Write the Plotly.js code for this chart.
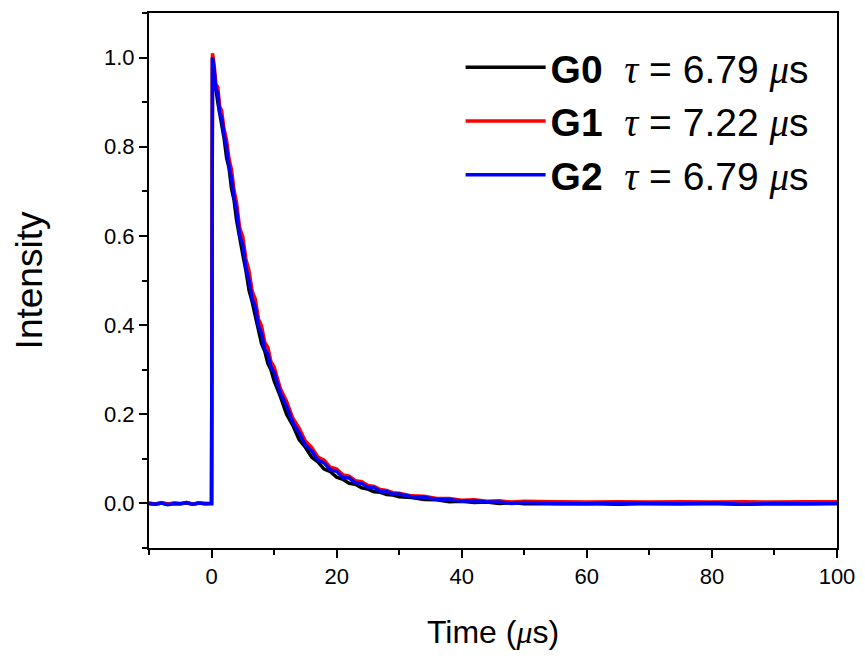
<!DOCTYPE html>
<html>
<head>
<meta charset="utf-8">
<script src="https://cdn.plot.ly/plotly-3.0.1.min.js"></script>
<style>html,body{margin:0;padding:0;background:#fff;}#chart{width:865px;height:660px;}</style>
</head>
<body>
<div id="chart"></div>
<script>
// Time axis (µs), shared by all three series
const time = [
  -10,-9,-8,-7,-6,-5,-4,-3,-2,-1,-0.2,
  0.0,0.15,
  0.4,0.7,1.0,1.3,1.6,2.0,2.4,2.8,3.2,3.6,4.0,
  4.5,5.0,5.5,6.0,6.5,7.0,7.5,8.0,8.5,9.0,9.5,10,
  11,12,13,14,15,16,17,18,19,20,21,22,23,24,25,26,27,28,29,30,
  32,34,36,38,40,42,44,46,48,50,
  55,60,65,70,75,80,85,90,95,100
];
// Normalised intensities
const g0 = [
  0.000,-0.002,0.001,-0.002,0.000,-0.001,0.001,-0.002,0.001,-0.001,0.000,
  0.000,1.000,
  0.960,0.930,0.900,0.876,0.846,0.820,0.776,0.752,0.706,0.680,0.636,
  0.594,0.558,0.522,0.478,0.452,0.418,0.392,0.358,0.342,0.314,0.300,0.275,
  0.240,0.200,0.175,0.143,0.126,0.104,0.093,0.077,0.071,0.059,0.054,0.045,0.043,0.035,0.032,0.026,0.025,0.020,0.019,0.015,
  0.013,0.009,0.008,0.004,0.005,0.002,0.003,0.000,0.002,-0.001,
  -0.001,0.000,-0.002,0.000,-0.001,0.000,-0.002,0.000,-0.001,0.000
];
const g1 = [
  0.001,-0.001,0.002,-0.001,0.001,0.000,0.002,-0.001,0.001,0.000,0.001,
  0.000,1.010,
  0.985,0.940,0.934,0.890,0.882,0.840,0.815,0.772,0.748,0.702,0.675,
  0.618,0.598,0.548,0.521,0.476,0.458,0.414,0.398,0.362,0.350,0.318,0.306,
  0.258,0.229,0.191,0.169,0.140,0.126,0.104,0.097,0.081,0.077,0.064,0.061,0.051,0.049,0.040,0.038,0.031,0.029,0.024,0.023,
  0.017,0.016,0.011,0.011,0.007,0.008,0.005,0.006,0.003,0.005,
  0.004,0.003,0.004,0.003,0.004,0.003,0.004,0.003,0.004,0.004
];
const g2 = [
  0.000,-0.002,0.001,-0.003,0.000,-0.001,0.002,-0.002,0.001,-0.001,0.000,
  0.000,1.000,
  0.975,0.928,0.920,0.876,0.866,0.826,0.798,0.756,0.728,0.686,0.658,
  0.600,0.580,0.528,0.500,0.458,0.440,0.398,0.381,0.346,0.335,0.306,0.294,
  0.247,0.218,0.181,0.158,0.131,0.118,0.097,0.091,0.075,0.072,0.058,0.057,0.046,0.045,0.036,0.035,0.027,0.027,0.021,0.021,
  0.015,0.014,0.009,0.009,0.005,0.006,0.003,0.003,0.000,0.002,
  0.000,-0.001,0.001,0.000,-0.001,0.001,-0.002,0.000,-0.001,0.000
];
const greek = (s) => '<span style="font-family:Liberation Serif,serif"><i>' + s + '</i></span>';
const seriesNames = [
  '<b>G0</b>  ' + greek('τ') + ' = 6.79 ' + greek('μ') + 's',
  '<b>G1</b>  ' + greek('τ') + ' = 7.22 ' + greek('μ') + 's',
  '<b>G2</b>  ' + greek('τ') + ' = 6.79 ' + greek('μ') + 's'
];
const seriesColors = ['#000000', '#ff0000', '#0000ff'];
const seriesData = [g0, g1, g2];

const traces = seriesData.map((vals, i) => ({
  x: time,
  y: vals,
  type: 'scatter',
  mode: 'lines',
  name: seriesNames[i],
  line: {color: seriesColors[i], width: 3.5}
}));

const font = {family: 'Liberation Sans, Arial, sans-serif', color: '#000'};

const layout = {
  width: 865,
  height: 660,
  paper_bgcolor: '#fff',
  plot_bgcolor: '#fff',
  margin: {l: 149, r: 28, t: 13, b: 112},
  showlegend: true,
  legend: {
    x: 0.966, y: 0.958, xanchor: 'right', yanchor: 'top',
    bgcolor: 'rgba(0,0,0,0)',
    font: Object.assign({}, font, {size: 39}),
    itemwidth: 80,
    tracegroupgap: 0
  },
  xaxis: {
    range: [-10, 100],
    tickvals: [0, 20, 40, 60, 80, 100],
    ticks: 'outside', ticklen: 8, tickwidth: 2, tickcolor: '#000',
    minor: {dtick: 10, tick0: 0, ticks: 'outside', ticklen: 5, tickwidth: 2, tickcolor: '#000'},
    showline: true, linewidth: 2, linecolor: '#000', mirror: true,
    showgrid: false, zeroline: false,
    tickfont: Object.assign({}, font, {size: 22}),
    title: {text: 'Time (' + greek('μ') + 's)', font: Object.assign({}, font, {size: 32}), standoff: 32}
  },
  yaxis: {
    range: [-0.1, 1.1],
    tickvals: [0, 0.2, 0.4, 0.6, 0.8, 1.0],
    tickformat: '.1f',
    ticks: 'outside', ticklen: 8, tickwidth: 2, tickcolor: '#000',
    minor: {dtick: 0.1, tick0: 0, ticks: 'outside', ticklen: 5, tickwidth: 2, tickcolor: '#000'},
    showline: true, linewidth: 2, linecolor: '#000', mirror: true,
    showgrid: false, zeroline: false,
    tickfont: Object.assign({}, font, {size: 22}),
    title: {text: 'Intensity', font: Object.assign({}, font, {size: 37}), standoff: 50}
  }
};

Plotly.newPlot('chart', traces, layout, {staticPlot: true, displayModeBar: false});
</script>
</body>
</html>
